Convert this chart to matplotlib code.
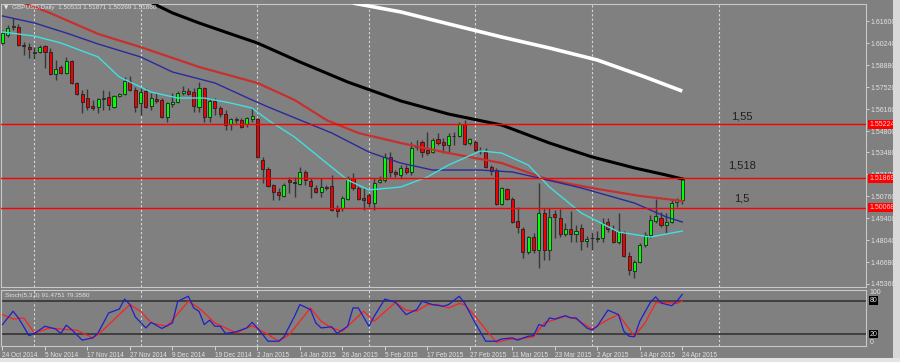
import matplotlib.pyplot as plt
from matplotlib.patches import Rectangle
from matplotlib.transforms import blended_transform_factory

# GBPUSD daily bars, bar 0 = 24 Oct 2014 ... bar 128 = 24 Apr 2015
opens = [1.6024, 1.6074, 1.6123, 1.6123, 1.6012, 1.5999, 1.5962, 1.5968, 1.6006, 1.5968,
         1.5832, 1.5876, 1.5839, 1.5913, 1.5777, 1.5709, 1.5684, 1.5635, 1.5629, 1.5678,
         1.5690, 1.5629, 1.5697, 1.5709, 1.5789, 1.5734, 1.5653, 1.5727, 1.5635, 1.5678,
         1.5672, 1.5567, 1.5647, 1.5659, 1.5715, 1.5727, 1.5721, 1.5629, 1.5746, 1.5567,
         1.5666, 1.5622, 1.5585, 1.5524, 1.5551, 1.5548, 1.5524, 1.5554, 1.5554, 1.5301,
         1.5245, 1.5147, 1.5103, 1.5079, 1.5177, 1.5165, 1.5153, 1.5227, 1.5171, 1.5128,
         1.5103, 1.5134, 1.5140, 1.5004, 1.5004, 1.5060, 1.5190, 1.5128, 1.5066, 1.5085,
         1.5035, 1.5165, 1.5177, 1.5320, 1.5224, 1.5208, 1.5252, 1.5227, 1.5381, 1.5412,
         1.5363, 1.5350, 1.5431, 1.5412, 1.5394, 1.5449, 1.5449, 1.5524, 1.5406, 1.5412,
         1.5363, 1.5350, 1.5258, 1.5239, 1.5029, 1.5122, 1.5060, 1.4924, 1.4875, 1.4732,
         1.4825, 1.4745, 1.4973, 1.4745, 1.4967, 1.4943, 1.4844, 1.4875, 1.4844, 1.4881,
         1.4800, 1.4819, 1.4810, 1.4819, 1.4918, 1.4868, 1.4794, 1.4856, 1.4708, 1.4615,
         1.4671, 1.4776, 1.4837, 1.4924, 1.4943, 1.4899, 1.4918, 1.5040, 1.5053]
highs = [1.6104, 1.6135, 1.6179, 1.6141, 1.6030, 1.6024, 1.5999, 1.6012, 1.6012, 1.5993,
         1.5919, 1.5888, 1.5938, 1.5919, 1.5783, 1.5734, 1.5740, 1.5672, 1.5684, 1.5734,
         1.5727, 1.5703, 1.5715, 1.5814, 1.5820, 1.5752, 1.5746, 1.5746, 1.5715, 1.5715,
         1.5684, 1.5659, 1.5715, 1.5727, 1.5758, 1.5746, 1.5746, 1.5783, 1.5752, 1.5684,
         1.5684, 1.5635, 1.5610, 1.5561, 1.5567, 1.5561, 1.5567, 1.5622, 1.5561, 1.5320,
         1.5258, 1.5153, 1.5128, 1.5159, 1.5196, 1.5196, 1.5258, 1.5239, 1.5190, 1.5147,
         1.5190, 1.5147, 1.5208, 1.5023, 1.5079, 1.5202, 1.5221, 1.5140, 1.5128, 1.5097,
         1.5190, 1.5202, 1.5344, 1.5350, 1.5239, 1.5270, 1.5270, 1.5412, 1.5425, 1.5425,
         1.5474, 1.5437, 1.5468, 1.5437, 1.5468, 1.5474, 1.5536, 1.5548, 1.5437, 1.5425,
         1.5381, 1.5375, 1.5270, 1.5252, 1.5134, 1.5128, 1.5072, 1.5011, 1.4887, 1.4831,
         1.4850, 1.5159, 1.5004, 1.5004, 1.4992, 1.4998, 1.4912, 1.4986, 1.4899, 1.4905,
         1.4831, 1.4856, 1.4862, 1.4943, 1.4943, 1.4899, 1.4973, 1.4862, 1.4732, 1.4683,
         1.4788, 1.4856, 1.4961, 1.5060, 1.4980, 1.4973, 1.5054, 1.5066, 1.5187]
lows = [1.6012, 1.6061, 1.6104, 1.6006, 1.5950, 1.5931, 1.5925, 1.5962, 1.5870, 1.5826,
        1.5795, 1.5832, 1.5832, 1.5771, 1.5703, 1.5591, 1.5610, 1.5610, 1.5591, 1.5610,
        1.5610, 1.5622, 1.5690, 1.5703, 1.5727, 1.5598, 1.5579, 1.5622, 1.5610, 1.5653,
        1.5561, 1.5536, 1.5629, 1.5653, 1.5703, 1.5703, 1.5598, 1.5598, 1.5536, 1.5536,
        1.5579, 1.5567, 1.5486, 1.5486, 1.5530, 1.5499, 1.5505, 1.5536, 1.5313, 1.5159,
        1.5134, 1.5054, 1.5054, 1.5072, 1.5097, 1.5072, 1.5147, 1.5147, 1.5066, 1.5097,
        1.5072, 1.5116, 1.4986, 1.4949, 1.4986, 1.5054, 1.5116, 1.5054, 1.4992, 1.5011,
        1.4992, 1.5159, 1.5165, 1.5196, 1.5196, 1.5190, 1.5215, 1.5208, 1.5363, 1.5320,
        1.5332, 1.5344, 1.5394, 1.5344, 1.5350, 1.5394, 1.5443, 1.5394, 1.5394, 1.5350,
        1.5338, 1.5252, 1.5208, 1.5023, 1.5023, 1.5054, 1.4912, 1.4850, 1.4695, 1.4720,
        1.4726, 1.4634, 1.4683, 1.4683, 1.4819, 1.4825, 1.4831, 1.4794, 1.4794, 1.4745,
        1.4763, 1.4745, 1.4794, 1.4794, 1.4856, 1.4788, 1.4782, 1.4702, 1.4590, 1.4572,
        1.4664, 1.4763, 1.4819, 1.4912, 1.4887, 1.4850, 1.4912, 1.5011, 1.5027]
closes = [1.6086, 1.6117, 1.6129, 1.6012, 1.6006, 1.5990, 1.5968, 1.5999, 1.5968, 1.5832,
          1.5863, 1.5839, 1.5913, 1.5777, 1.5709, 1.5659, 1.5629, 1.5622, 1.5678, 1.5684,
          1.5641, 1.5697, 1.5706, 1.5789, 1.5734, 1.5629, 1.5721, 1.5629, 1.5684, 1.5666,
          1.5567, 1.5653, 1.5659, 1.5715, 1.5727, 1.5709, 1.5635, 1.5746, 1.5567, 1.5666,
          1.5622, 1.5585, 1.5517, 1.5554, 1.5554, 1.5505, 1.5561, 1.5573, 1.5320, 1.5245,
          1.5140, 1.5103, 1.5085, 1.5147, 1.5165, 1.5156, 1.5227, 1.5177, 1.5140, 1.5103,
          1.5134, 1.5128, 1.4992, 1.4986, 1.5066, 1.5190, 1.5128, 1.5060, 1.5054, 1.5035,
          1.5159, 1.5177, 1.5320, 1.5227, 1.5215, 1.5252, 1.5227, 1.5375, 1.5388, 1.5350,
          1.5344, 1.5425, 1.5406, 1.5394, 1.5449, 1.5452, 1.5524, 1.5400, 1.5431, 1.5363,
          1.5360, 1.5258, 1.5233, 1.5029, 1.5128, 1.5060, 1.4918, 1.4887, 1.4732, 1.4825,
          1.4745, 1.4973, 1.4745, 1.4949, 1.4949, 1.4844, 1.4875, 1.4844, 1.4862, 1.4800,
          1.4813, 1.4817, 1.4819, 1.4912, 1.4875, 1.4794, 1.4862, 1.4708, 1.4621, 1.4671,
          1.4776, 1.4837, 1.4930, 1.4955, 1.4899, 1.4918, 1.5035, 1.5053, 1.5186]

# moving averages (bar index, price)
black_idx = [27, 32, 37, 43, 48, 56, 65, 75, 84, 94, 103, 111, 119, 125, 128]
black_val = [1.6290, 1.6210, 1.6148, 1.6080, 1.6024, 1.5907, 1.5783, 1.5666, 1.5585, 1.5517,
             1.5406, 1.5320, 1.5252, 1.5208, 1.5184]
white_idx = [66, 75, 84, 94, 103, 112, 121, 128]
white_val = [1.6271, 1.6216, 1.6142, 1.6061, 1.5993, 1.5919, 1.5814, 1.5727]
red_idx = [2, 4, 9, 18, 26, 37, 48, 55, 61, 67, 75, 84, 94, 103, 112, 120, 128]
red_val = [1.6302, 1.6271, 1.6209, 1.6080, 1.5999, 1.5876, 1.5777, 1.5672, 1.5548, 1.5468,
           1.5406, 1.5344, 1.5282, 1.5177, 1.5122, 1.5079, 1.5048]
blue_idx = [0, 6, 12, 18, 26, 32, 40, 47, 50, 62, 69, 75, 81, 90, 96, 101, 109, 119, 125, 128]
blue_val = [1.6191, 1.6148, 1.6086, 1.6018, 1.5938, 1.5845, 1.5777, 1.5672, 1.5629, 1.5468,
            1.5350, 1.5282, 1.5239, 1.5239, 1.5227, 1.5190, 1.5128, 1.5035, 1.4949, 1.4918]
cyan_idx = [0, 6, 11, 18, 22, 26, 28, 33, 38, 43, 47, 50, 55, 61, 65, 69, 75, 80, 84, 90,
            94, 99, 103, 109, 116, 122, 128]
cyan_val = [1.6092, 1.6067, 1.6024, 1.5938, 1.5814, 1.5752, 1.5721, 1.5684, 1.5684, 1.5653,
            1.5622, 1.5548, 1.5443, 1.5283, 1.5177, 1.5116, 1.5134, 1.5196, 1.5270, 1.5357,
            1.5344, 1.5270, 1.5134, 1.4973, 1.4856, 1.4825, 1.4862]

# horizontal levels
levels = [1.55224, 1.51869, 1.50068]
level_notes = ['1,55', '1,518', '1,5']
note_prices = [1.5567, 1.5264, 1.5060]

# stochastic (5,3,3)
k_idx = [0, 2, 3, 5, 6, 8, 10, 11, 12, 13, 15, 17, 18, 20, 22, 23, 24, 25, 27, 28,
         30, 32, 33, 35, 36, 37, 38, 39, 40, 41, 42, 44, 46, 47, 48, 50, 52, 53, 55, 56,
         58, 59, 60, 62, 63, 65, 66, 67, 69, 70, 72, 74, 76, 78, 79, 81, 83, 84, 86, 87,
         89, 91, 93, 94, 96, 97, 99, 100, 101, 102, 103, 104, 106, 107, 108, 110, 111, 112, 114, 116,
         117, 118, 119, 120, 122, 123, 124, 126, 127, 128]
k_val = [37, 61, 49, 17, 21, 34, 29, 21, 36, 28, 9, 13, 22, 58, 65, 83, 73, 51, 31, 41,
         30, 40, 79, 88, 67, 61, 37, 45, 34, 34, 21, 24, 31, 41, 31, 7, 7, 15, 52, 73,
         64, 40, 31, 33, 21, 34, 67, 67, 34, 52, 83, 77, 55, 64, 79, 73, 70, 73, 88, 76,
         40, 7, 7, 11, 13, 9, 16, 17, 37, 34, 49, 47, 53, 49, 49, 31, 27, 34, 63, 55,
         25, 16, 15, 43, 77, 87, 76, 71, 79, 91.48]
d_idx = [0, 2, 4, 6, 9, 12, 14, 17, 18, 21, 24, 26, 28, 31, 35, 37, 40, 44, 47, 50,
         52, 54, 58, 60, 62, 64, 68, 70, 74, 76, 78, 80, 82, 84, 86, 87, 89, 91, 93, 95,
         97, 100, 102, 106, 108, 111, 114, 116, 119, 121, 123, 125, 127, 128]
d_val = [55, 47, 49, 22, 31, 28, 27, 13, 19, 46, 73, 61, 40, 34, 79, 67, 40, 22, 35, 19,
         7, 19, 67, 43, 31, 25, 61, 43, 77, 63, 61, 73, 73, 67, 75, 73, 52, 28, 5, 10,
         11, 15, 40, 52, 47, 29, 46, 55, 16, 40, 76, 77, 75, 79.36]

price_ticks = [1.61600, 1.60240, 1.58880, 1.57520, 1.56160, 1.54800, 1.53480,
               1.52120, 1.50760, 1.49400, 1.48040, 1.46680, 1.45360]
date_idx = list(range(0, 129, 8))
date_labels = ['24 Oct 2014', '5 Nov 2014', '17 Nov 2014', '27 Nov 2014', '9 Dec 2014',
               '19 Dec 2014', '2 Jan 2015', '14 Jan 2015', '26 Jan 2015', '5 Feb 2015',
               '17 Feb 2015', '27 Feb 2015', '11 Mar 2015', '23 Mar 2015', '2 Apr 2015',
               '14 Apr 2015', '24 Apr 2015']
grid_idx = [6, 26, 48, 69, 89, 111, 135]

bg = '#808080'
fg = '#e2e2e2'
W, H = 900, 362
font = 'Liberation Sans'

fig = plt.figure(figsize=(9, 3.62), dpi=100, facecolor=bg)
ax = fig.add_axes([1 / W, 1 - 286.5 / H, 865 / W, 282.5 / H])
axs = fig.add_axes([1 / W, 1 - 345.5 / H, 865 / W, 56 / H])

for a in (ax, axs):
    a.set_facecolor(bg)
    a.set_xlim(-0.28, 162.6)
    for s in a.spines.values():
        s.set_color('#c8c8c8')
        s.set_linewidth(0.8)
    for g in grid_idx:
        a.axvline(g, color='#d8d8d8', lw=0.8, ls=(0, (2, 2)), zorder=1)

ax.set_ylim(1.45192, 1.62651)

# candles
for i in range(len(opens)):
    o, h, l, c = opens[i], highs[i], lows[i], closes[i]
    ax.vlines(i, l, h, color='#383838', lw=1.0, zorder=2)
    up = c >= o
    body = max(abs(c - o), 0.00012)
    ax.add_patch(Rectangle((i - 0.29, min(o, c)), 0.58, body,
                           facecolor='#00ff00' if up else '#f00000',
                           edgecolor='#202020', lw=0.6, zorder=3))

ax.plot(white_idx, white_val, color='white', lw=2.6, zorder=4, solid_capstyle='butt')
ax.plot(black_idx, black_val, color='black', lw=2.2, zorder=4)
ax.plot(red_idx, red_val, color='#c83030', lw=1.6, zorder=4)
ax.plot(blue_idx, blue_val, color='#2a2a9a', lw=1.0, zorder=4)
ax.plot(cyan_idx, cyan_val, color='#40e0e0', lw=1.0, zorder=4)

for lv in levels:
    ax.axhline(lv, color='#ff0000', lw=1.0, zorder=5)
for note, p in zip(level_notes, note_prices):
    ax.text(139.3, p, note, fontsize=8, color='#202020', ha='center', va='center',
            family=font, zorder=6)

ax.yaxis.tick_right()
ax.set_yticks(price_ticks)
ax.set_yticklabels(['%.5f' % p for p in price_ticks])
ax.tick_params(axis='y', length=2, width=0.6, colors=fg, labelsize=5, pad=1.5)
for lab in ax.get_yticklabels():
    lab.set_family(font)
ax.set_xticks([])

tr = blended_transform_factory(ax.transAxes, ax.transData)
for lv in levels:
    ax.text(1.004, lv, '%.5f' % lv, transform=tr, fontsize=5, color='#ffd0d0', family=font,
            ha='left', va='center', zorder=7,
            bbox=dict(boxstyle='square,pad=0.15', fc='#ff0000', ec='none'))

# stochastic panel
axs.set_ylim(-0.7, 100.2)
axs.axhline(80, color='#3a3a3a', lw=1.3, zorder=2)
axs.axhline(20, color='#3a3a3a', lw=1.3, zorder=2)
axs.plot(d_idx, d_val, color='#ff2020', lw=0.9, zorder=3)
axs.plot(k_idx, k_val, color='#2020c8', lw=0.9, zorder=4)
axs.set_yticks([])
axs.set_xticks(date_idx)
axs.set_xticklabels(date_labels, ha='left', family=font)
axs.tick_params(axis='x', length=3, width=0.6, colors=fg, labelsize=4.7, pad=2)

trs = blended_transform_factory(axs.transAxes, axs.transData)
axs.text(1.004, 94, '100', transform=trs, fontsize=5, color=fg, family=font, va='center')
axs.text(1.004, 5, '0', transform=trs, fontsize=5, color=fg, family=font, va='center')
for v in (80, 20):
    axs.text(1.004, v, str(v), transform=trs, fontsize=5, color=fg, family=font, va='center',
             bbox=dict(boxstyle='square,pad=0.12', fc='black', ec='none'))
axs.text(4 / 865, 0.9, 'Stoch(5,3,3) 91.4751 79.3580', transform=axs.transAxes,
         fontsize=4.6, color=fg, family=font, va='center')

# title and window frame
fig.text(4 / W, 1 - 8 / H, '\u25bc', fontsize=4, color=fg, va='center')
fig.text(12 / W, 1 - 8 / H, 'GBPUSD,Daily  1.50533 1.51871 1.50269 1.51860',
         fontsize=4.6, color=fg, family=font, va='center')
fig.patches.append(Rectangle((893 / W, 0), 7 / W, 1, transform=fig.transFigure,
                             fc='#d8d8d8', ec='none'))
fig.patches.append(Rectangle((0, 0), 1, 4 / H, transform=fig.transFigure,
                             fc='#e4e4e4', ec='none'))

fig.savefig('out.png', dpi=100, facecolor=bg)
